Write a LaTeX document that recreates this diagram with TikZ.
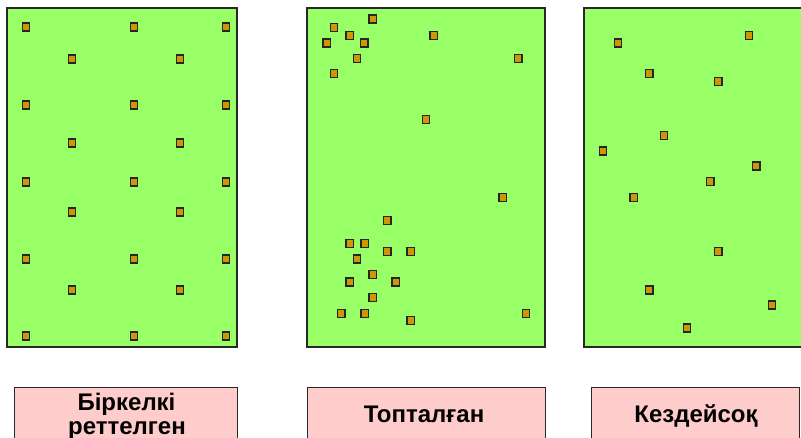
\documentclass[tikz,border=0pt]{standalone}
\usepackage{fontspec}
\setmainfont{Liberation Sans}
\definecolor{fieldgreen}{RGB}{153,255,102}
\definecolor{plantgold}{RGB}{204,153,0}
\definecolor{boxpink}{RGB}{255,204,204}
\definecolor{edgegray}{RGB}{40,40,40}
\tikzset{
  field/.style={draw=edgegray, line width=1.3pt, fill=fieldgreen},
  plant/.style={draw=black!85, line width=1.4pt, fill=plantgold, minimum width=7.5pt, minimum height=8pt, inner sep=0pt},
  lblbox/.style={draw=edgegray, line width=0.9pt, fill=boxpink},
  lbl/.style={font=\bfseries\fontsize{24}{25}\selectfont, inner sep=0pt, anchor=base}
}
\begin{document}
\begin{tikzpicture}[x=1pt,y=-1pt]
\useasboundingbox (0,0) rectangle (801,438);
\clip (0,0) rectangle (801,438);
% fields
\draw[field] (7,8) rectangle (237,347);
\draw[field] (307,8) rectangle (545,347);
\draw[field] (584,8) rectangle (812,347);
% uniform
\foreach \y [count=\i] in {27,105,182,259,336}{
  \foreach \x [count=\j] in {26,134,226}{
    \node[plant] (u\i\j) at (\x,\y) {};
  }
}
\foreach \y [count=\i] in {59,143,212,290}{
  \foreach \x [count=\j] in {72,180}{
    \node[plant] (v\i\j) at (\x,\y) {};
  }
}
% clustered
\foreach \x/\y [count=\k] in {372.7/19, 334/27.3, 349.7/35.3, 326.7/43, 364.3/43, 433.7/35.3, 357/58.7, 518.3/58.7, 334/73.3, 426/119.7, 502.7/197.3, 387.3/220.7, 349.7/243.7, 364.7/243.7, 387.3/251.3, 410.7/251.3, 357/259, 372.7/274.3, 349.7/282, 395.7/282, 372.7/297.3, 341.3/313.3, 364.7/313.3, 526/313.3, 410.7/320.7}{
  \node[plant] (c\k) at (\x,\y) {};
}
% random
\foreach \x/\y [count=\k] in {618/43, 749/35.3, 649.3/73.3, 718.3/81.7, 664/135.7, 603/151, 756.3/166, 710.3/181.7, 633.7/197.3, 718.3/251.3, 649.3/290, 772/305, 687/328}{
  \node[plant] (r\k) at (\x,\y) {};
}
% label boxes
\draw[lblbox] (14,387) rectangle (237,452);
\draw[lblbox] (307.5,387) rectangle (545,452);
\draw[lblbox] (591,387) rectangle (799,452);
\node[lbl] (t1a) at (126.5,410) {Біркелкі};
\node[lbl] (t1b) at (127,434) {реттелген};
\node[lbl] (t2) at (424,423) {Топталған};
\node[lbl] (t3) at (696,423) {Кездейсоқ};
\end{tikzpicture}
\end{document}
